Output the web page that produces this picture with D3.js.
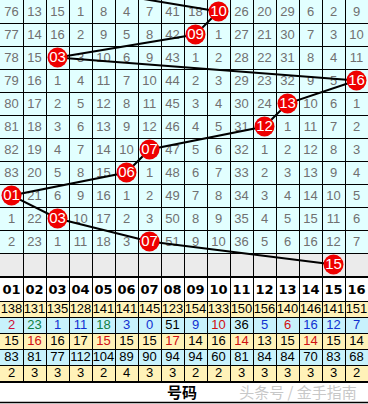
<!DOCTYPE html>
<html><head><meta charset="utf-8">
<script src="https://cdn.jsdelivr.net/npm/d3@7"></script>
<style>html,body{margin:0;padding:0;background:#fff;}svg{display:block;}</style>
</head><body>
<script>
// ---- data ----
const columns = ["01","02","03","04","05","06","07","08","09","10","11","12","13","14","15","16"];
// omission grid (null where the drawn number sits)
const gridRows = [
  [76,13,15,1,8,4,7,41,18,null,26,20,29,6,2,9],
  [77,14,16,2,9,5,8,42,null,1,27,21,30,7,3,10],
  [78,15,null,3,10,6,9,43,1,2,28,22,31,8,4,11],
  [79,16,1,4,11,7,10,44,2,3,29,23,32,9,5,null],
  [80,17,2,5,12,8,11,45,3,4,30,24,null,10,6,1],
  [81,18,3,6,13,9,12,46,4,5,31,null,1,11,7,2],
  [82,19,4,7,14,10,null,47,5,6,32,1,2,12,8,3],
  [83,20,5,8,15,null,1,48,6,7,33,2,3,13,9,4],
  [null,21,6,9,16,1,2,49,7,8,34,3,4,14,10,5],
  [1,22,null,10,17,2,3,50,8,9,35,4,5,15,11,6],
  [2,23,1,11,18,3,null,51,9,10,36,5,6,16,12,7]
];
const previousDraw = "04";   // draw above the visible area
const draws = ["10","09","03","16","13","12","07","06","01","03","07","15"];
const statRow1 = [138,131,135,128,141,141,145,123,154,133,150,156,140,146,141,151];
const statRow2 = [2,23,1,11,18,3,0,51,9,10,36,5,6,16,12,7];
const statRow3 = [15,16,16,17,15,15,15,17,14,16,14,13,15,14,15,14];
const statRow4 = [83,81,77,112,104,89,90,94,94,60,81,84,84,70,83,68];
const statRow5 = [2,3,3,3,2,4,3,3,2,2,3,3,3,3,3,2];
const footerLabel = "号码";
const watermark = "头条号 / 金手指南";

// ---- styles ----
const row2Colors = ["#d0103a","#108040","#1030d0","#1030d0","#108040","#1030d0","#1030d0","#000","#1030d0","#d01010","#000","#1030d0","#d01010","#1030d0","#1030d0","#1030d0"];
const row3Colors = ["#000","#d01010","#000","#000","#d01010","#000","#000","#d01010","#000","#000","#d01010","#000","#000","#d01010","#000","#000"];

const W = 368, H = 404;
const svg = d3.select("body").append("svg").attr("width", W).attr("height", H);

const x = d3.scaleBand().domain(columns).range([0, W]);
const nRows = draws.length; // 12 rows incl. gray one
const y = d3.scaleBand().domain(d3.range(-1, nRows)).range([-23, 276]);

const font = "'Liberation Sans', Arial, sans-serif";

// grid backgrounds
const g = svg.append("g");
gridRows.forEach((row, ri) => {
  g.selectAll(null).data(columns).enter().append("rect")
    .attr("x", d => x(d)).attr("y", y(ri))
    .attr("width", x.bandwidth()).attr("height", y.bandwidth())
    .attr("fill", "#e2ffff");
});
// gray forecast row
g.append("rect").attr("x", 0).attr("y", y(nRows - 1)).attr("width", W).attr("height", y.bandwidth()).attr("fill", "#ebebeb");

// grid numbers
gridRows.forEach((row, ri) => {
  g.selectAll(null).data(row.map((v, i) => ({v, c: columns[i]})).filter(d => d.v !== null))
    .enter().append("text")
    .attr("x", d => x(d.c) + x.bandwidth() / 2)
    .attr("y", y(ri) + y.bandwidth() / 2 + 1)
    .attr("text-anchor", "middle").attr("dominant-baseline", "middle")
    .attr("font-family", font).attr("font-size", 13).attr("fill", "#707070")
    .text(d => d.v);
});

// grid lines
const gl = svg.append("g").attr("stroke", "#000").attr("stroke-width", 1);
columns.slice(1).forEach(c => {
  gl.append("line").attr("x1", x(c) + 0.5).attr("x2", x(c) + 0.5).attr("y1", 0).attr("y2", 404 - 22);
});
d3.range(1, nRows).forEach(r => {
  gl.append("line").attr("x1", 0).attr("x2", W).attr("y1", y(r) + 0.5).attr("y2", y(r) + 0.5);
});

// bottom table
const tableTop = 278, headH = 23, rowH = 16;
svg.append("rect").attr("x", 0).attr("y", tableTop).attr("width", W).attr("height", headH).attr("fill", "#fff");
const stats = [statRow1, statRow2, statRow3, statRow4, statRow5];
const statFill = ["#fff2b8", "#c8f2fc", "#fff2b8", "#c8f2fc", "#fff2b8"];
const statColors = [null, row2Colors, row3Colors, null, null];
const yS = d3.scaleBand().domain(d3.range(stats.length)).range([tableTop + headH, tableTop + headH + rowH * stats.length]);
stats.forEach((row, ri) => {
  svg.append("rect").attr("x", 0).attr("y", yS(ri)).attr("width", W).attr("height", yS.bandwidth()).attr("fill", statFill[ri]);
  svg.selectAll(null).data(row.map((v, i) => ({v, c: columns[i], i}))).enter().append("text")
    .attr("x", d => x(d.c) + x.bandwidth() / 2)
    .attr("y", yS(ri) + yS.bandwidth() / 2 + 1)
    .attr("text-anchor", "middle").attr("dominant-baseline", "middle")
    .attr("font-family", font).attr("font-size", 13)
    .attr("fill", d => statColors[ri] ? statColors[ri][d.i] : "#000")
    .text(d => d.v);
});
// header labels
svg.selectAll(null).data(columns).enter().append("text")
  .attr("x", d => x(d) + x.bandwidth() / 2).attr("y", tableTop + headH / 2 + 1)
  .attr("text-anchor", "middle").attr("dominant-baseline", "middle")
  .attr("font-family", "'DejaVu Sans', sans-serif").attr("font-weight", "bold").attr("font-size", 13)
  .attr("fill", "#000").text(d => d);

const tl = svg.append("g").attr("stroke", "#000");
const tableBottom = tableTop + headH + rowH * stats.length;
columns.slice(1).forEach(c => {
  tl.append("line").attr("x1", x(c) + 0.5).attr("x2", x(c) + 0.5).attr("y1", tableTop).attr("y2", tableBottom);
});
[tableTop + headH].concat(d3.range(1, stats.length).map(i => yS(i))).forEach(yy => {
  tl.append("line").attr("x1", 0).attr("x2", W).attr("y1", yy + 0.5).attr("y2", yy + 0.5);
});
tl.append("line").attr("x1", 0).attr("x2", W).attr("y1", tableTop - 1).attr("y2", tableTop - 1).attr("stroke-width", 2);
tl.append("line").attr("x1", 0).attr("x2", W).attr("y1", tableBottom + 1).attr("y2", tableBottom + 1).attr("stroke-width", 2);
tl.append("line").attr("x1", 0).attr("x2", W).attr("y1", H - 1.5).attr("y2", H - 1.5).attr("stroke-width", 1.5);

// footer
svg.append("text").attr("x", 182).attr("y", (tableBottom + H) / 2 + 1)
  .attr("text-anchor", "middle").attr("dominant-baseline", "middle")
  .attr("font-family", "'Noto Sans CJK SC', sans-serif").attr("font-weight", "bold").attr("font-size", 15)
  .attr("fill", "#000").text(footerLabel);
svg.append("text").attr("x", 298).attr("y", (tableBottom + H) / 2 + 1)
  .attr("text-anchor", "middle").attr("dominant-baseline", "middle")
  .attr("font-family", "'Noto Sans CJK SC', sans-serif").attr("font-size", 15)
  .attr("fill", "#c8c8c8").text(watermark);

// draw path
const pts = [previousDraw].concat(draws).map((d, i) => [x(d) + x.bandwidth() / 2, y(i - 1) + y.bandwidth() / 2]);
svg.append("path").attr("d", d3.line()(pts)).attr("fill", "none").attr("stroke", "#000").attr("stroke-width", 2);

// balls
const balls = svg.selectAll(null).data(draws.map((d, i) => ({d, i}))).enter().append("g")
  .attr("transform", p => `translate(${x(p.d) + x.bandwidth() / 2},${y(p.i) + y.bandwidth() / 2})`);
balls.append("circle").attr("r", 10).attr("fill", "#ee0000");
balls.append("text").attr("text-anchor", "middle").attr("dominant-baseline", "middle").attr("y", 1)
  .attr("font-family", font).attr("font-size", 15).attr("fill", "#fff").text(p => p.d);
</script>
</body></html>
